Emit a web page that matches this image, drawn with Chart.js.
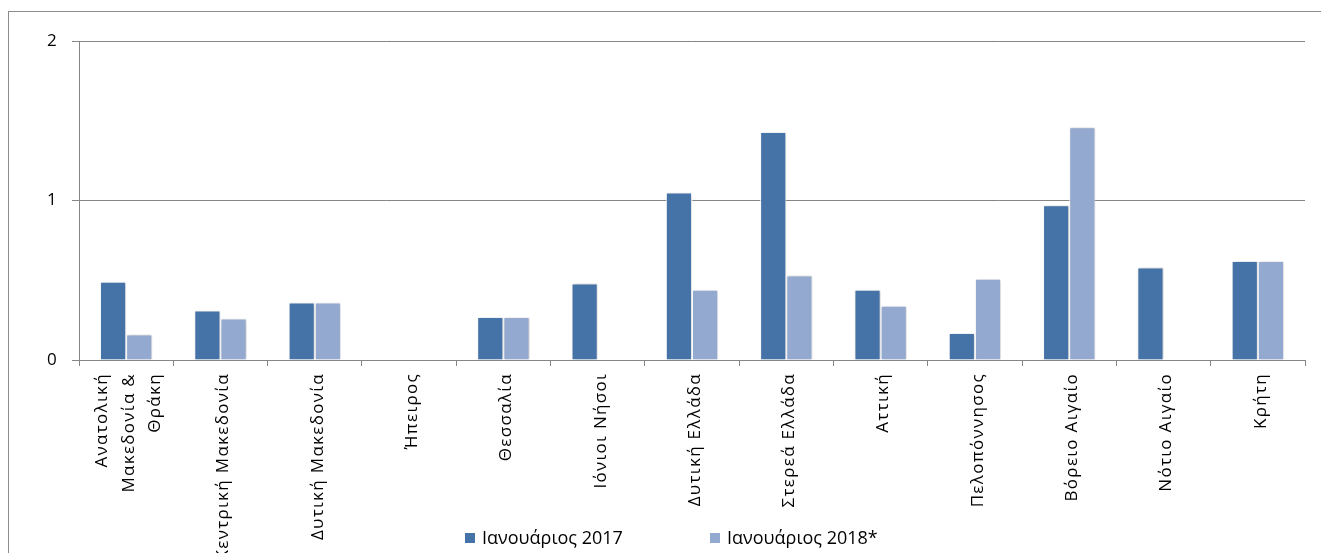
<!DOCTYPE html>
<html>
<head>
<meta charset="utf-8">
<script src="https://cdn.jsdelivr.net/npm/chart.js@4"></script>
<style>
  html, body { margin: 0; padding: 0; background: #fff; overflow: hidden; }
  #wrap { position: relative; width: 1321px; height: 553px; }
  #frame { position: absolute; left: 8px; top: 11px; width: 1330px; height: 600px; border: 1px solid #8c8c8c; box-sizing: border-box; }
  canvas { position: absolute; left: 0; top: 0; }
  .leg { position: absolute; top: 526px; font-family: "Open Sans", sans-serif; font-size: 18px; color: #000; line-height: 22px; white-space: nowrap; }
  .leg span { display: inline-block; width: 10px; height: 10px; margin-right: 7px; vertical-align: 1px; }
</style>
</head>
<body>
<div id="wrap">
  <div id="frame"></div>
  <canvas id="chart" width="1321" height="553"></canvas>
  <div class="leg" style="left:465px"><span style="background:#4572A7"></span>Ιανουάριος 2017</div>
  <div class="leg" style="left:710px"><span style="background:#93A9CF"></span>Ιανουάριος 2018*</div>
</div>
<script>
// first line of each label is left empty so the text sits centred on its bar pair
const regions = [
    ['Ανατολική', 'Μακεδονία &', 'Θράκη'],
    ['', 'Κεντρική Μακεδονία'],
    ['', 'Δυτική Μακεδονία'],
    ['', 'Ήπειρος'],
    ['', 'Θεσσαλία'],
    ['', 'Ιόνιοι Νήσοι'],
    ['', 'Δυτική Ελλάδα'],
    ['', 'Στερεά Ελλάδα'],
    ['', 'Αττική'],
    ['', 'Πελοπόννησος'],
    ['', 'Βόρειο Αιγαίο'],
    ['', 'Νότιο Αιγαίο'],
    ['', 'Κρήτη']
];
const jan2017 = [0.49, 0.31, 0.36, 0, 0.27, 0.48, 1.05, 1.43, 0.44, 0.17, 0.97, 0.58, 0.62];
const jan2018 = [0.16, 0.26, 0.36, 0, 0.27, 0, 0.44, 0.53, 0.34, 0.51, 1.46, 0, 0.62];
const yTicks = [0, 1, 2];

const gridGray = '#868686';
const labelLine = 26.5;

// soft shadow round the bars, like the office chart
const barShadow = {
    id: 'barShadow',
    beforeDatasetsDraw(chart) {
        const ctx = chart.ctx;
        ctx.save();
        ctx.shadowColor = 'rgba(0,0,0,0.22)';
        ctx.shadowBlur = 3;
        ctx.shadowOffsetX = 1;
        ctx.shadowOffsetY = 0;
    },
    afterDatasetsDraw(chart) {
        chart.ctx.restore();
    }
};

// wider letter spacing for the axis text
const spacing = {
    id: 'spacing',
    beforeDraw(chart) {
        chart.ctx.letterSpacing = '1.3px';
    }
};

const ctx = document.getElementById('chart').getContext('2d');
new Chart(ctx, {
    type: 'bar',
    data: {
        labels: regions,
        datasets: [{
            label: 'Ιανουάριος 2017',
            data: jan2017,
            backgroundColor: '#4572A7',
            borderColor: '#ffffff',
            borderWidth: 1,
            barPercentage: 1,
            categoryPercentage: 0.555
        }, {
            label: 'Ιανουάριος 2018*',
            data: jan2018,
            backgroundColor: '#93A9CF',
            borderColor: '#ffffff',
            borderWidth: 1,
            barPercentage: 1,
            categoryPercentage: 0.555
        }]
    },
    options: {
        responsive: false,
        animation: false,
        layout: { padding: { left: 0, top: 41, right: 16, bottom: 0 } },
        plugins: {
            legend: { display: false },
            tooltip: { enabled: false }
        },
        scales: {
            x: {
                grid: {
                    drawOnChartArea: false,
                    drawTicks: true,
                    tickLength: 6,
                    color: gridGray,
                    offset: true
                },
                border: { color: gridGray, width: 1 },
                ticks: {
                    autoSkip: false,
                    maxRotation: 90,
                    minRotation: 90,
                    padding: 7,
                    labelOffset: 3 - labelLine,
                    color: '#000',
                    font: { family: 'Open Sans', size: 17, lineHeight: labelLine + 'px' }
                },
                afterFit(scale) { scale.height = 193; }
            },
            y: {
                min: 0,
                max: 2,
                afterBuildTicks(scale) { scale.ticks = yTicks.map(v => ({ value: v })); },
                grid: {
                    color: gridGray,
                    drawTicks: true,
                    tickLength: 7
                },
                border: { color: gridGray, width: 1 },
                ticks: {
                    padding: 14,
                    color: '#000',
                    font: { family: 'Open Sans', size: 17 }
                },
                afterFit(scale) { scale.width = 79; }
            }
        }
    },
    plugins: [spacing, barShadow]
});
</script>
</body>
</html>
